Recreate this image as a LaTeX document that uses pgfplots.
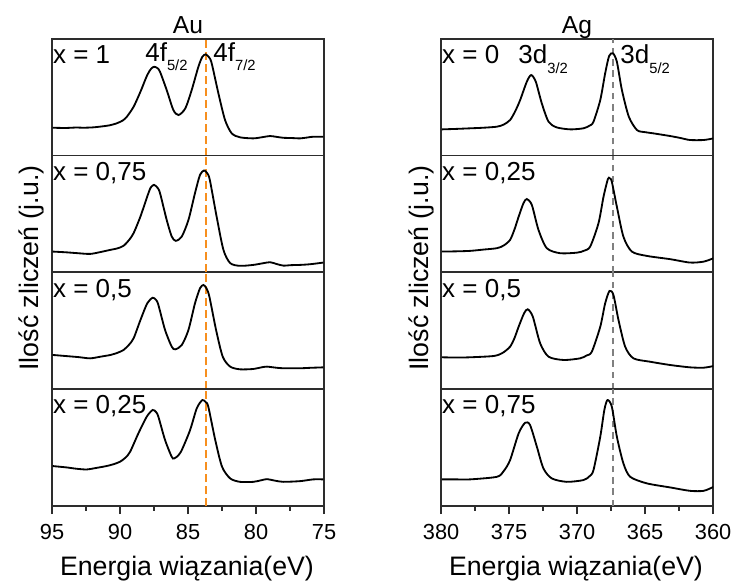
\documentclass[border=0pt]{standalone}
\usepackage{pgfplots}
\pgfplotsset{compat=1.18}
\usepackage{fontspec}
\setmainfont{Liberation Sans}
\definecolor{dashorange}{RGB}{247,143,30}
\definecolor{dashgray}{RGB}{128,128,128}
\definecolor{axgray}{RGB}{45,45,45}
\newcommand\annfont{\fontsize{18.5}{20}\selectfont}
\newcommand\sub[1]{\raisebox{-6.8pt}{\fontsize{10.5}{11}\selectfont #1}}

\tikzset{lbl/.style={anchor=base west, inner sep=0pt, font=\annfont}}
\pgfplotsset{
 panel/.style={scale only axis, width=6.8cm, height=2.92cm, ymin=0, ymax=1,
   ytick=\empty, xtick=\empty, x dir=reverse, anchor=north west,
   axis line style={line width=1.3pt, color=axgray}},
 au/.style={panel, xmin=75, xmax=95},
 ag/.style={panel, xmin=360, xmax=380},
 bottom/.style={xtick pos=left, tick align=outside, minor x tick num=1,
   major tick length=0.2cm, minor tick length=0.12cm,
   every tick/.style={line width=1.1pt, color=axgray},
   /pgf/number format/assume math mode=true,
   xticklabel style={font=\fontsize{15.5}{16}\selectfont, yshift=-3.5pt}},
 curve/.style={black, line width=1.3pt, smooth, tension=0.45, mark=none},
 audash/.style={dashorange, line width=1.4pt, dash pattern=on 5.7pt off 2.8pt},
 agdash/.style={dashgray, line width=1.2pt, dash pattern=on 4.6pt off 3.4pt},
}

\begin{document}
\begin{tikzpicture}
% ---------------- Au ----------------
\begin{axis}[au, at={(1.3cm,-0.9675cm)}]
\addplot[audash] coordinates {(83.68,0) (83.68,1)};
\addplot[curve] coordinates {(94.95,0.238) (94.0,0.236) (93.2,0.240) (92.7,0.238) (92.0,0.241) (91.5,0.247) (90.8,0.258) (90.24,0.276) (89.8,0.300) (89.5,0.332) (89.0,0.418) (88.5,0.546) (88.0,0.689) (87.7,0.745) (87.48,0.760) (87.25,0.748) (87.06,0.717) (86.57,0.561) (86.08,0.390) (85.7,0.347) (85.2,0.404) (84.73,0.561) (84.24,0.760) (83.95,0.845) (83.70,0.866) (83.45,0.840) (83.26,0.789) (82.77,0.533) (82.28,0.304) (81.79,0.190) (81.18,0.156) (80.2,0.147) (79.5,0.158) (78.97,0.167) (78.5,0.160) (78.0,0.152) (77.4,0.150) (76.76,0.147) (76.2,0.155) (75.8,0.161) (75.05,0.161)};
\node[lbl] at (rel axis cs:0.003,0.79) {x = 1};
\node[lbl] at (rel axis cs:0.342,0.809) {4f\sub{5/2}};
\node[lbl] at (rel axis cs:0.592,0.809) {4f\sub{7/2}};
\end{axis}
\begin{axis}[au, at={(1.3cm,-3.8875cm)}]
\addplot[audash] coordinates {(83.68,0) (83.68,1)};
\addplot[curve] coordinates {(94.95,0.178) (94.0,0.172) (93.2,0.165) (92.2,0.158) (91.4,0.175) (90.7,0.193) (90.2,0.205) (89.75,0.227) (89.35,0.275) (89.0,0.336) (88.5,0.478) (88.0,0.649) (87.75,0.725) (87.5,0.749) (87.25,0.725) (87.06,0.678) (86.57,0.449) (86.2,0.307) (85.9,0.270) (85.46,0.307) (84.97,0.449) (84.49,0.678) (84.12,0.835) (83.82,0.872) (83.6,0.850) (83.4,0.792) (82.9,0.478) (82.4,0.193) (81.9,0.079) (81.18,0.056) (80.2,0.064) (79.5,0.078) (78.97,0.087) (78.5,0.072) (78.0,0.058) (77.4,0.062) (76.76,0.064) (76.0,0.070) (75.05,0.084)};
\node[lbl] at (rel axis cs:0.003,0.79) {x = 0,75};
\end{axis}
\begin{axis}[au, at={(1.3cm,-6.81cm)}]
\addplot[audash] coordinates {(83.68,0) (83.68,1)};
\addplot[curve] coordinates {(94.95,0.294) (94.0,0.285) (93.0,0.275) (92.2,0.265) (91.4,0.280) (90.7,0.294) (90.2,0.312) (89.75,0.336) (89.35,0.380) (89.0,0.437) (88.5,0.593) (88.0,0.736) (87.6,0.784) (87.35,0.765) (87.18,0.722) (86.69,0.508) (86.2,0.365) (85.94,0.342) (85.46,0.379) (84.97,0.508) (84.49,0.736) (84.12,0.865) (83.87,0.893) (83.65,0.865) (83.43,0.793) (82.94,0.508) (82.45,0.279) (81.9,0.194) (81.18,0.171) (80.2,0.174) (79.6,0.188) (79.2,0.194) (78.6,0.186) (78.0,0.180) (76.76,0.180) (76.0,0.184) (75.05,0.188)};
\node[lbl] at (rel axis cs:0.003,0.79) {x = 0,5};
\end{axis}
\begin{axis}[au, bottom, at={(1.3cm,-9.73cm)}, xtick={75,80,...,95}]
\addplot[audash] coordinates {(83.68,0) (83.68,1)};
\addplot[curve] coordinates {(94.95,0.343) (94.5,0.338) (93.9,0.331) (93.2,0.320) (92.45,0.314) (91.7,0.328) (91.0,0.343) (90.5,0.358) (90.0,0.380) (89.6,0.415) (89.26,0.465) (88.65,0.623) (88.04,0.765) (87.6,0.823) (87.35,0.805) (87.18,0.765) (86.69,0.566) (86.2,0.422) (86.03,0.408) (85.75,0.430) (85.46,0.480) (84.85,0.651) (84.36,0.837) (83.95,0.908) (83.7,0.890) (83.51,0.851) (83.0,0.566) (82.5,0.337) (81.9,0.237) (81.18,0.208) (80.2,0.208) (79.6,0.222) (79.2,0.231) (78.6,0.218) (78.0,0.208) (76.76,0.214) (75.8,0.229) (75.05,0.229)};
\node[lbl] at (rel axis cs:0.003,0.79) {x = 0,25};
\end{axis}
% ---------------- Ag ----------------
\begin{axis}[ag, at={(11.025cm,-0.9675cm)}]
\addplot[agdash] coordinates {(367.38,0) (367.38,1)};
\addplot[curve] coordinates {(379.95,0.224) (378.9,0.228) (377.87,0.233) (376.9,0.238) (375.9,0.247) (375.4,0.265) (374.93,0.304) (374.55,0.380) (374.19,0.475) (373.7,0.632) (373.38,0.689) (373.04,0.632) (372.6,0.447) (372.1,0.289) (371.5,0.241) (370.5,0.224) (369.54,0.233) (369.1,0.255) (368.8,0.289) (368.3,0.475) (367.94,0.704) (367.65,0.852) (367.37,0.875) (367.08,0.803) (366.71,0.561) (366.2,0.332) (365.6,0.218) (365.0,0.200) (364.4,0.190) (363.16,0.167) (362.4,0.150) (361.7,0.133) (360.7,0.133) (359.98,0.147)};
\node[lbl] at (rel axis cs:0.003,0.785) {x = 0};
\node[lbl] at (rel axis cs:0.283,0.785) {3d\sub{3/2}};
\node[lbl] at (rel axis cs:0.658,0.785) {3d\sub{5/2}};
\end{axis}
\begin{axis}[ag, at={(11.025cm,-3.8875cm)}]
\addplot[agdash] coordinates {(367.38,0) (367.38,1)};
\addplot[curve] coordinates {(379.95,0.178) (378.9,0.180) (377.87,0.184) (376.9,0.195) (375.9,0.207) (375.4,0.230) (374.93,0.278) (374.6,0.370) (374.3,0.477) (373.95,0.591) (373.7,0.628) (373.33,0.577) (372.84,0.363) (372.23,0.207) (371.25,0.164) (370.0,0.169) (369.5,0.185) (369.04,0.221) (368.43,0.421) (368.06,0.648) (367.74,0.799) (367.6,0.805) (367.45,0.776) (367.08,0.562) (366.6,0.306) (365.98,0.178) (364.88,0.141) (363.16,0.113) (361.7,0.084) (360.7,0.092) (359.98,0.121)};
\node[lbl] at (rel axis cs:0.003,0.79) {x = 0,25};
\end{axis}
\begin{axis}[ag, at={(11.025cm,-6.81cm)}]
\addplot[agdash] coordinates {(367.38,0) (367.38,1)};
\addplot[curve] coordinates {(379.95,0.274) (378.9,0.272) (377.87,0.274) (376.15,0.285) (375.5,0.310) (374.93,0.365) (374.6,0.440) (374.3,0.536) (373.9,0.651) (373.63,0.685) (373.26,0.622) (372.72,0.394) (372.1,0.279) (371.0,0.251) (369.78,0.265) (369.3,0.290) (368.92,0.322) (368.3,0.536) (367.94,0.736) (367.62,0.842) (367.33,0.807) (366.96,0.593) (366.47,0.365) (365.86,0.265) (364.63,0.236) (363.16,0.208) (361.7,0.188) (360.7,0.185) (359.98,0.199)};
\node[lbl] at (rel axis cs:0.003,0.79) {x = 0,5};
\end{axis}
\begin{axis}[ag, bottom, at={(11.025cm,-9.73cm)}, xtick={360,365,...,380}]
\addplot[agdash] coordinates {(367.38,0) (367.38,1)};
\addplot[curve] coordinates {(379.95,0.229) (378.9,0.229) (377.87,0.229) (375.9,0.251) (375.4,0.300) (374.93,0.394) (374.3,0.623) (373.82,0.714) (373.46,0.694) (372.96,0.508) (372.48,0.323) (371.86,0.237) (370.76,0.208) (369.54,0.223) (369.1,0.255) (368.8,0.308) (368.3,0.594) (368.0,0.823) (367.77,0.908) (367.45,0.851) (367.08,0.594) (366.6,0.366) (366.1,0.251) (364.88,0.195) (363.16,0.160) (361.7,0.131) (360.7,0.131) (359.98,0.165)};
\node[lbl] at (rel axis cs:0.003,0.79) {x = 0,75};
\end{axis}
% ---------------- labels ----------------
\begin{scope}[x=0.025cm, y=-0.025cm]
\node[anchor=base, inner sep=0pt, font=\fontsize{17.5}{19}\selectfont] at (188,33.3) {Au};
\node[anchor=base, inner sep=0pt, font=\fontsize{17.5}{19}\selectfont] at (577,33.3) {Ag};
\node[anchor=base, inner sep=0pt, font=\fontsize{19}{21}\selectfont] at (187,575) {Energia wiązania(eV)};
\node[anchor=base, inner sep=0pt, font=\fontsize{19}{21}\selectfont] at (576,575) {Energia wiązania(eV)};
\node[anchor=base, rotate=90, inner sep=0pt, font=\fontsize{19}{21}\selectfont] at (38,268) {Ilość zliczeń (j.u.)};
\node[anchor=base, rotate=90, inner sep=0pt, font=\fontsize{19}{21}\selectfont] at (428.3,268) {Ilość zliczeń (j.u.)};
\pgfresetboundingbox
\path[use as bounding box] (0,0) rectangle (733,581);
\end{scope}
\end{tikzpicture}
\end{document}
